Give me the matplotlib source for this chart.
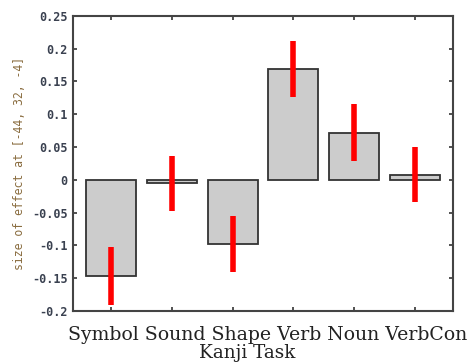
import matplotlib
matplotlib.use("Agg")
import matplotlib.pyplot as plt
import numpy as np

categories = ["Symbol", "Sound", "Shape", "Verb", "Noun", "VerbCon"]
values = [-0.147, -0.005, -0.098, 0.169, 0.072, 0.008]
errors = [0.044, 0.042, 0.043, 0.043, 0.044, 0.042]
yticks = [-0.2, -0.15, -0.1, -0.05, 0, 0.05, 0.1, 0.15, 0.2, 0.25]
ytick_labels = ["-0.2", "-0.15", "-0.1", "-0.05", "0", "0.05", "0.1", "0.15", "0.2", "0.25"]

fig = plt.figure(figsize=(4.68, 3.62), dpi=100)
ax = fig.add_axes([0.156, 0.141, 0.812, 0.815])

x = np.arange(1, len(categories) + 1)
ax.bar(x, values, width=0.82, color="#cccccc", edgecolor="#333333", linewidth=1.3, zorder=2)
for xi, v, e in zip(x, values, errors):
    ax.plot([xi, xi], [v - e, v + e], color="#ff0000", linewidth=4, solid_capstyle="butt", zorder=3)

ax.set_xlim(0.38, 6.62)
ax.set_ylim(-0.2, 0.25)
ax.set_xticks(x)
ax.set_xticklabels([])
ax.set_yticks(yticks)
ax.set_yticklabels(ytick_labels, family="DejaVu Sans Mono", fontweight="bold", fontsize=8.5, color="#3a4150")
ax.tick_params(axis="both", direction="in", length=3, width=1.2, color="#333333",
               top=True, right=True)
ax.tick_params(axis="y", pad=4)
for s in ax.spines.values():
    s.set_linewidth(1.5)
    s.set_color("#444444")

# category labels laid out as one line of text, as in the reference
ax.text(0.513, -0.052, " ".join(categories), transform=ax.transAxes, ha="center", va="top",
        family="DejaVu Serif", fontsize=13.6, color="#222222")
ax.text(0.458, -0.113, "Kanji Task", transform=ax.transAxes, ha="center", va="top",
        family="DejaVu Serif", fontsize=13.2, color="#222222")
ax.set_ylabel("size of effect at [-44, 32, -4]", family="DejaVu Sans Mono", fontsize=8.3,
              color="#8a6d40", labelpad=4)

fig.savefig("out.png", dpi=100)
